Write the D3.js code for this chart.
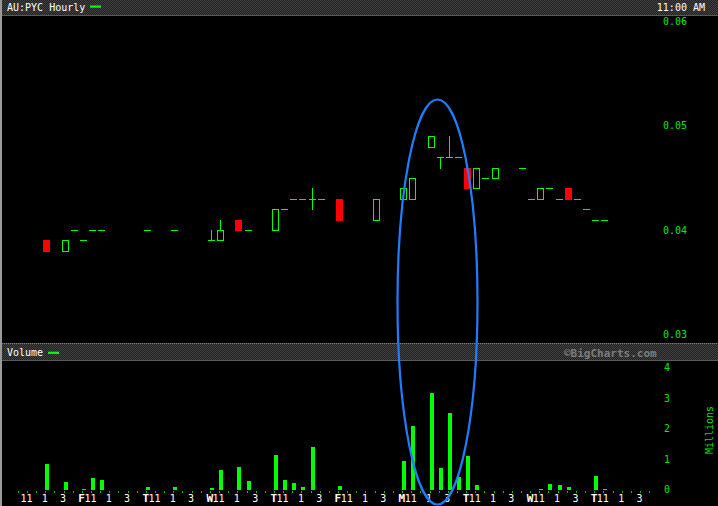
<!DOCTYPE html>
<html>
<head>
<meta charset="utf-8">
<script src="https://cdn.jsdelivr.net/npm/d3@7"></script>
<style>
  html, body { margin: 0; padding: 0; background: #000; }
  svg { display: block; }
  text { font-family: "DejaVu Sans Mono", "Liberation Mono", monospace; }
</style>
</head>
<body>
<svg id="chart" width="718" height="506"></svg>
<script>
// ---- data ----
const title = "AU:PYC Hourly";
const timeLabel = "11:00 AM";
const dayLetters = ["", "F", "T", "W", "T", "F", "M", "T", "W", "T"];
const hourLabels = ["11", "1", "3"];
const hourLabelSlots = [1, 3, 5];
const slotsPerDay = 7;

const candleSlot  = [3, 5, 6, 7, 8, 9, 14, 17, 21, 22, 24, 25, 28, 29, 30, 31, 32, 33, 35, 39, 42, 43, 45, 46, 47, 48, 49, 50, 51, 52, 55, 56, 57, 58, 59, 60, 61, 62, 63, 64];
const candleOpen  = [0.039, 0.038, 0.040, 0.039, 0.040, 0.040, 0.040, 0.040, 0.039, 0.039, 0.041, 0.040, 0.040, 0.042, 0.043, 0.043, 0.043, 0.043, 0.043, 0.041, 0.043, 0.043, 0.048, 0.047, 0.047, 0.047, 0.046, 0.044, 0.045, 0.045, 0.046, 0.043, 0.043, 0.044, 0.043, 0.044, 0.043, 0.042, 0.041, 0.041];
const candleHigh  = [0.039, 0.039, 0.040, 0.039, 0.040, 0.040, 0.040, 0.040, 0.040, 0.041, 0.041, 0.040, 0.042, 0.042, 0.043, 0.043, 0.044, 0.043, 0.043, 0.043, 0.044, 0.045, 0.049, 0.047, 0.049, 0.047, 0.046, 0.046, 0.045, 0.046, 0.046, 0.043, 0.044, 0.044, 0.043, 0.044, 0.043, 0.042, 0.041, 0.041];
const candleLow   = [0.038, 0.038, 0.040, 0.039, 0.040, 0.040, 0.040, 0.040, 0.039, 0.039, 0.040, 0.040, 0.040, 0.042, 0.043, 0.043, 0.042, 0.043, 0.041, 0.041, 0.043, 0.043, 0.048, 0.046, 0.047, 0.047, 0.044, 0.044, 0.045, 0.045, 0.046, 0.043, 0.043, 0.044, 0.043, 0.043, 0.043, 0.042, 0.041, 0.041];
const candleClose = [0.038, 0.039, 0.040, 0.039, 0.040, 0.040, 0.040, 0.040, 0.039, 0.040, 0.040, 0.040, 0.042, 0.042, 0.043, 0.043, 0.043, 0.043, 0.041, 0.043, 0.044, 0.045, 0.049, 0.047, 0.047, 0.047, 0.044, 0.046, 0.045, 0.046, 0.046, 0.043, 0.044, 0.044, 0.043, 0.043, 0.043, 0.042, 0.041, 0.041];

const volSlot  = [3, 5, 7, 8, 9, 14, 17, 21, 22, 24, 25, 28, 29, 30, 31, 32, 35, 42, 43, 45, 46, 47, 48, 49, 50, 57, 58, 59, 60, 63, 64];
const volMill  = [0.84, 0.25, 0.03, 0.39, 0.33, 0.10, 0.10, 0.07, 0.66, 0.75, 0.30, 1.15, 0.33, 0.23, 0.10, 1.41, 0.13, 0.94, 2.09, 3.17, 0.72, 2.51, 0.43, 1.10, 0.16, 0.02, 0.19, 0.15, 0.09, 0.45, 0.02];

const priceTicks = [0.03, 0.04, 0.05, 0.06];
const volTicks = [0, 1, 2, 3, 4];

// ---- drawing ----
const svg = d3.select("#chart");
const W = 718, H = 506;
const GREEN = "#00ff00", TXTGREEN = "#00e600", RED = "#ff0000";

const nSlots = 70;
const x = d3.scaleLinear().domain([0, nSlots - 1]).range([18.75, 18.75 + 69 * 9.15]);
const y = d3.scaleLinear().domain([0.03, 0.06]).range([334.2, 21.8]);
const yv = d3.scaleLinear().domain([0, 4]).range([489.7, 367.7]);

// background
svg.append("rect").attr("width", W).attr("height", H).attr("fill", "#000");

const defs = svg.append("defs");
const pat = defs.append("pattern").attr("id", "chk").attr("width", 2).attr("height", 2)
  .attr("patternUnits", "userSpaceOnUse");
pat.append("rect").attr("width", 2).attr("height", 2).attr("fill", "#1e1e1e");
pat.append("rect").attr("width", 1).attr("height", 1).attr("fill", "#444");
pat.append("rect").attr("x", 1).attr("y", 1).attr("width", 1).attr("height", 1).attr("fill", "#444");

// top header
svg.append("rect").attr("x", 0).attr("y", 0).attr("width", W).attr("height", 15).attr("fill", "url(#chk)");
svg.append("rect").attr("x", 0).attr("y", 15).attr("width", W).attr("height", 1).attr("fill", "#5a5a5a");
svg.append("text").attr("x", 7).attr("y", 10.5).attr("fill", "#fff").attr("font-size", 10).text(title);
svg.append("rect").attr("x", 90).attr("y", 5.5).attr("width", 11).attr("height", 2.2).attr("fill", GREEN);
svg.append("text").attr("x", 705).attr("y", 10.5).attr("text-anchor", "end").attr("fill", "#fff").attr("font-size", 10).text(timeLabel);

// volume header
svg.append("rect").attr("x", 0).attr("y", 343).attr("width", W).attr("height", 17).attr("fill", "url(#chk)");
svg.append("line").attr("x1", 0).attr("x2", W).attr("y1", 343.5).attr("y2", 343.5)
  .attr("stroke", "#777").attr("stroke-dasharray", "1,1");
svg.append("rect").attr("x", 0).attr("y", 360).attr("width", W).attr("height", 1).attr("fill", "#5a5a5a");
svg.append("text").attr("x", 7).attr("y", 356).attr("fill", "#fff").attr("font-size", 10).text("Volume");
svg.append("rect").attr("x", 48).attr("y", 351.7).attr("width", 11).attr("height", 2.2).attr("fill", GREEN);
svg.append("text").attr("x", 564).attr("y", 356.5).attr("fill", "#7c7c7c").attr("font-size", 11)
  .attr("font-weight", "bold").text("\u00A9BigCharts.com");

// left border
svg.append("rect").attr("x", 0).attr("y", 0).attr("width", 2).attr("height", H).attr("fill", "#9a9a9a");

// price axis labels
svg.append("g").selectAll("text").data(priceTicks).join("text")
  .attr("x", 663).attr("y", d => y(d)).attr("dy", "0.35em")
  .attr("fill", TXTGREEN).attr("font-size", 10)
  .text(d => d3.format(".2f")(d));

// volume axis labels
svg.append("g").selectAll("text").data(volTicks).join("text")
  .attr("x", 664).attr("y", d => yv(d)).attr("dy", "0.35em")
  .attr("fill", TXTGREEN).attr("font-size", 10)
  .text(d => d);
svg.append("text").attr("transform", "translate(713,430) rotate(-90)")
  .attr("text-anchor", "middle").attr("fill", TXTGREEN).attr("font-size", 10).text("Millions");

// candles
const candles = candleSlot.map((s, i) => ({
  s, o: candleOpen[i], h: candleHigh[i], l: candleLow[i], c: candleClose[i]
}));
const py = v => Math.round(y(v));
const cg = svg.append("g").attr("shape-rendering", "crispEdges");
candles.forEach(d => {
  const cx = Math.round(x(d.s));
  // wick
  if (d.h !== d.l) {
    cg.append("line").attr("x1", cx + 0.5).attr("x2", cx + 0.5)
      .attr("y1", py(d.h)).attr("y2", py(d.l) + 1)
      .attr("stroke", d.c < d.o ? RED : GREEN).attr("stroke-width", 1);
  }
  if (d.o === d.c) {
    cg.append("rect").attr("x", cx - 3).attr("y", py(d.o)).attr("width", 7).attr("height", 1).attr("fill", GREEN);
  } else if (d.c > d.o) {
    cg.append("rect").attr("x", cx - 2.5).attr("y", py(d.c) + 0.5)
      .attr("width", 6).attr("height", py(d.o) - py(d.c))
      .attr("fill", "#000").attr("stroke", GREEN).attr("stroke-width", 1);
  } else {
    cg.append("rect").attr("x", cx - 3).attr("y", py(d.o))
      .attr("width", 7).attr("height", py(d.c) - py(d.o) + 1).attr("fill", RED);
  }
});

// volume bars
const vols = volSlot.map((s, i) => ({ s, v: volMill[i] }));
svg.append("g").attr("shape-rendering", "crispEdges").selectAll("rect").data(vols).join("rect")
  .attr("x", d => Math.round(x(d.s)) - 1.5)
  .attr("width", 4)
  .attr("y", d => Math.min(yv(d.v), yv(0) - 1.2))
  .attr("height", d => Math.max(yv(0) - yv(d.v), 1.2))
  .attr("fill", GREEN);

// x-axis ticks
svg.append("g").attr("shape-rendering", "crispEdges").selectAll("rect").data(d3.range(nSlots)).join("rect")
  .attr("x", d => Math.round(x(d)) - 1).attr("y", 490.5).attr("width", 1).attr("height", 2)
  .attr("fill", "#00c800");

// x-axis labels
const labels = [];
dayLetters.forEach((L, di) => {
  hourLabels.forEach((hl, hi) => {
    labels.push({ slot: di * slotsPerDay + hourLabelSlots[hi], text: hl, letter: hi === 0 ? L : "" });
  });
});
const lg = svg.append("g");
lg.selectAll("text.h").data(labels).join("text").attr("class", "h")
  .attr("x", d => x(d.slot) - 1.5).attr("y", 501.5).attr("text-anchor", "middle")
  .attr("fill", "#fff").attr("font-size", 10).text(d => d.text);
lg.selectAll("text.d").data(labels.filter(d => d.letter)).join("text").attr("class", "d")
  .attr("x", d => x(d.slot) - 7).attr("y", 501.5).attr("text-anchor", "end")
  .attr("fill", "#fff").attr("font-size", 11).attr("font-weight", "bold").text(d => d.letter);

// annotation ellipse
svg.append("ellipse").attr("cx", 437.5).attr("cy", 302).attr("rx", 40).attr("ry", 202.5)
  .attr("fill", "none").attr("stroke", "#1f7dff").attr("stroke-width", 2.2);
</script>
</body>
</html>
